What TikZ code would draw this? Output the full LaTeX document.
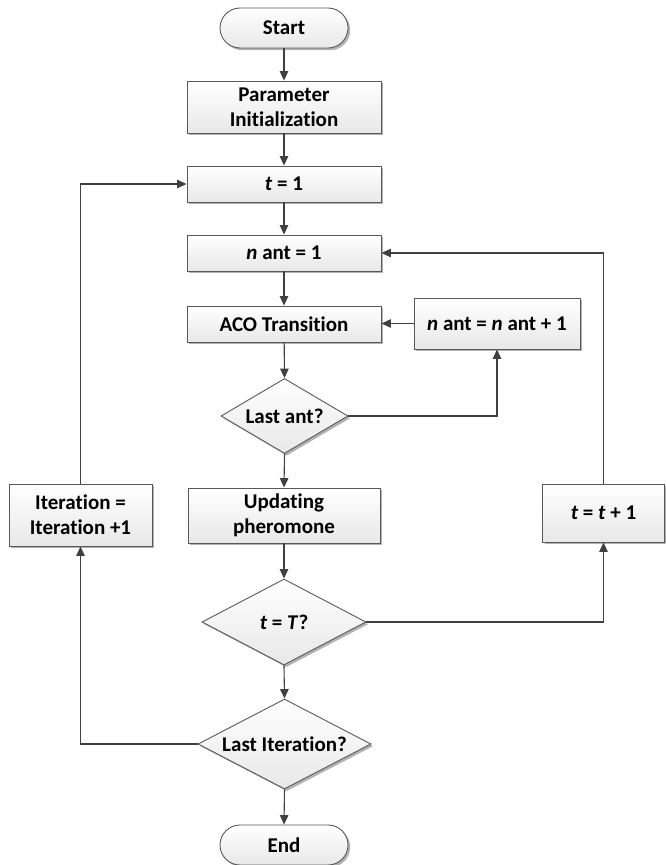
\documentclass[tikz,border=0pt]{standalone}
\usepackage{fontspec}
\setmainfont{Carlito}[Ligatures={NoCommon}]
\usetikzlibrary{arrows.meta,shapes.geometric,shadows,calc}
\definecolor{linec}{HTML}{404040}
\definecolor{borderc}{HTML}{595959}
\tikzset{
  base/.style={draw=borderc, line width=0.9pt, top color=white, bottom color=black!9,
    drop shadow={shadow xshift=2.2pt, shadow yshift=-2.2pt, opacity=0.3, fill=black},
    font=\fontsize{21}{25}\selectfont\bfseries, align=center, inner sep=0pt},
  procbox/.style={base, rectangle},
  termbox/.style={base, rectangle, rounded corners=20pt, minimum width=128pt, minimum height=40pt},
  decbox/.style={base, diamond},
  lbl/.style={font=\fontsize{21}{25}\selectfont\bfseries, align=center, inner sep=0pt},
  conn/.style={draw=linec, line width=1.1pt, -{Triangle[length=9.5pt,width=8.5pt]}},
  plain/.style={draw=linec, line width=1.1pt}
}
\begin{document}
\begin{tikzpicture}[x=1pt,y=-1pt]
\useasboundingbox (0,0) rectangle (665,865);
\node[termbox] (start) at (284,28) {Start};
\node[procbox, minimum width=194pt, minimum height=52pt] (param) at (284,107) {Parameter\\Initialization};
\node[procbox, minimum width=194pt, minimum height=36pt] (t1) at (284,184) {\textit{t} = 1};
\node[procbox, minimum width=194pt, minimum height=36pt] (nant) at (284,253) {\textit{n} ant = 1};
\node[procbox, minimum width=194pt, minimum height=36pt] (aco) at (284,324) {ACO Transition};
\node[procbox, minimum width=166pt, minimum height=51pt] (inc) at (497,323.5) {\textit{n} ant = \textit{n} ant + 1};
\node[decbox, minimum width=127pt, minimum height=75pt] (lastant) at (284.5,416) {};
\node[lbl] (lastanttxt) at (lastant) {Last ant?};
\node[procbox, minimum width=192pt, minimum height=55pt] (upd) at (284,515.5) {Updating\\pheromone};
\node[decbox, minimum width=164pt, minimum height=86pt] (tT) at (284,622) {};
\node[lbl] (tTtxt) at (tT) {\textit{t} = \textit{T}?};
\node[decbox, minimum width=173pt, minimum height=90pt] (lastit) at (284.5,744) {};
\node[lbl] (lastittxt) at (lastit) {Last Iteration?};
\node[procbox, minimum width=143pt, minimum height=62pt] (iter) at (80.5,515) {Iteration =\\Iteration +1};
\node[procbox, minimum width=122pt, minimum height=58pt] (tinc) at (603.5,513) {\textit{t} = \textit{t} + 1};
\node[termbox] (endn) at (284,845) {End};

\draw[conn] (start) -- (param);
\draw[conn] (param) -- (t1);
\draw[conn] (t1) -- (nant);
\draw[conn] (nant) -- (aco);
\draw[conn] (aco) -- (lastant.north);
\draw[conn] (lastant.east) -| (inc.south);
\draw[conn] (inc.west) -- (aco.east |- inc.west);
\draw[conn] (lastant.south) -- (upd.north);
\draw[conn] (upd.south) -- (tT.north);
\draw[conn] (tT.east) -| (tinc.south);
\draw[conn] (tinc.north) |- (nant.east);
\draw[conn] (tT.south) -- (lastit.north);
\draw[conn] (lastit.west) -| (iter.south);
\draw[conn] (iter.north) |- (t1.west);
\draw[conn] (lastit.south) -- (endn.north);
\end{tikzpicture}
\end{document}
